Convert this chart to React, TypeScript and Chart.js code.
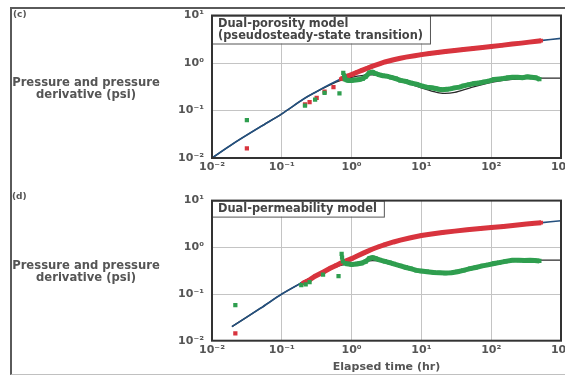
import React, { useEffect, useRef } from 'react';
import { Chart, registerables } from 'chart.js';

Chart.register(...registerables);

// ---------- ticks ----------
const X_TICK_VALUES = [0.01, 0.1, 1, 10, 100, 1000];
const X_TICK_LABELS = ['10⁻²', '10⁻¹', '10⁰', '10¹', '10²', '10³'];
const Y_TICK_VALUES = [0.01, 0.1, 1, 10];
const Y_TICK_LABELS = ['10⁻²', '10⁻¹', '10⁰', '10¹'];

// ---------- panel (c): dual-porosity ----------
const C_MODEL_P_T = [0.01, 0.02, 0.05, 0.1, 0.2, 0.3, 0.5, 0.7, 1, 1.5, 2, 3, 5, 7, 10, 20, 50, 100, 200, 500, 1000];
const C_MODEL_P = [0.01, 0.02, 0.046, 0.085, 0.17, 0.24, 0.36, 0.46, 0.57, 0.72, 0.85, 1.04, 1.24, 1.36, 1.49, 1.72, 2.0, 2.22, 2.5, 2.95, 3.3];
const C_MODEL_D_T = [0.01, 0.02, 0.05, 0.1, 0.2, 0.3, 0.5, 0.7, 1, 1.5, 2, 3, 5, 7, 10, 15, 20, 30, 50, 100, 200, 500, 1000];
const C_MODEL_D = [0.01, 0.02, 0.046, 0.085, 0.17, 0.24, 0.35, 0.43, 0.5, 0.55, 0.56, 0.52, 0.43, 0.36, 0.3, 0.25, 0.23, 0.24, 0.3, 0.39, 0.45, 0.48, 0.48];
const C_RED_T = [0.7, 0.8, 0.9, 1, 1.2, 1.4, 1.7, 2, 2.5, 3, 4, 5, 6, 8, 10, 13, 17, 22, 30, 40, 55, 75, 100, 140, 200, 270, 350, 450, 520];
const C_RED = [0.46, 0.5, 0.54, 0.57, 0.64, 0.7, 0.78, 0.86, 0.96, 1.05, 1.17, 1.26, 1.33, 1.42, 1.5, 1.58, 1.66, 1.74, 1.84, 1.93, 2.03, 2.12, 2.22, 2.35, 2.5, 2.62, 2.75, 2.88, 2.95];
const C_RED_PTS_T = [0.0316, 0.215, 0.25, 0.316, 0.41, 0.55];
const C_RED_PTS = [0.0159, 0.134, 0.15, 0.185, 0.25, 0.31];
const C_GREEN_T = [0.8, 0.9, 1, 1.15, 1.3, 1.45, 1.6, 1.8, 2, 2.2, 2.5, 2.8, 3.2, 3.7, 4.3, 5, 6, 7, 8.5, 10, 12, 14, 16, 18, 20, 23, 26, 30, 35, 40, 48, 57, 67, 80, 95, 110, 130, 150, 175, 200, 240, 280, 330, 380, 430, 490];
const C_GREEN = [0.45, 0.43, 0.43, 0.44, 0.45, 0.47, 0.52, 0.62, 0.64, 0.6, 0.56, 0.54, 0.53, 0.5, 0.47, 0.43, 0.41, 0.38, 0.36, 0.33, 0.31, 0.3, 0.29, 0.28, 0.275, 0.28, 0.285, 0.3, 0.31, 0.33, 0.35, 0.37, 0.38, 0.4, 0.42, 0.45, 0.46, 0.47, 0.49, 0.5, 0.5, 0.49, 0.51, 0.5, 0.49, 0.46];
const C_GREEN_PTS_T = [0.0316, 0.215, 0.3, 0.41, 0.67, 0.76, 0.78, 0.8];
const C_GREEN_PTS = [0.063, 0.127, 0.17, 0.235, 0.23, 0.62, 0.55, 0.5];

// ---------- panel (d): dual-permeability ----------
const D_MODEL_P_T = [0.0193, 0.05, 0.1, 0.2, 0.3, 0.5, 0.7, 1, 1.5, 2, 3, 5, 7, 10, 20, 50, 100, 200, 500, 1000];
const D_MODEL_P = [0.02, 0.05, 0.1, 0.18, 0.25, 0.37, 0.46, 0.57, 0.76, 0.93, 1.15, 1.42, 1.6, 1.79, 2.07, 2.4, 2.63, 2.9, 3.35, 3.7];
const D_MODEL_D_T = [0.0193, 0.05, 0.1, 0.2, 0.3, 0.5, 0.7, 1, 1.5, 2, 3, 5, 10, 20, 40, 100, 200, 500, 1000];
const D_MODEL_D = [0.02, 0.05, 0.1, 0.18, 0.25, 0.35, 0.41, 0.46, 0.5, 0.52, 0.49, 0.41, 0.31, 0.28, 0.32, 0.44, 0.5, 0.53, 0.53];
const D_RED_T = [0.2, 0.25, 0.3, 0.4, 0.5, 0.6, 0.7, 0.8, 1, 1.2, 1.5, 2, 2.5, 3, 4, 5, 7, 10, 14, 20, 30, 45, 70, 100, 150, 220, 320, 420, 520];
const D_RED = [0.17, 0.2, 0.24, 0.3, 0.36, 0.41, 0.46, 0.5, 0.57, 0.65, 0.76, 0.92, 1.04, 1.14, 1.3, 1.42, 1.6, 1.79, 1.93, 2.07, 2.22, 2.38, 2.52, 2.64, 2.8, 2.98, 3.15, 3.28, 3.37];
const D_RED_PTS_T = [0.0216];
const D_RED_PTS = [0.0144];
const D_GREEN_T = [0.8, 0.9, 1, 1.2, 1.4, 1.6, 1.8, 2, 2.2, 2.5, 3, 3.5, 4, 5, 6, 7, 8.5, 10, 12, 15, 18, 22, 27, 33, 40, 50, 60, 75, 90, 110, 130, 160, 200, 250, 300, 360, 420, 490];
const D_GREEN = [0.45, 0.44, 0.43, 0.44, 0.46, 0.5, 0.58, 0.6, 0.58, 0.54, 0.5, 0.47, 0.44, 0.4, 0.37, 0.35, 0.32, 0.31, 0.3, 0.29, 0.285, 0.28, 0.285, 0.3, 0.32, 0.35, 0.37, 0.4, 0.42, 0.45, 0.47, 0.5, 0.53, 0.53, 0.52, 0.53, 0.52, 0.51];
const D_GREEN_PTS_T = [0.0216, 0.19, 0.22, 0.25, 0.39, 0.65, 0.72, 0.73, 0.75];
const D_GREEN_PTS = [0.058, 0.155, 0.16, 0.18, 0.26, 0.24, 0.72, 0.6, 0.5];

// ---------- text ----------
const C_BOX_LINES = ['Dual-porosity model', '(pseudosteady-state transition)'];
const D_BOX_LINES = ['Dual-permeability model'];
const Y_LABEL_LINES = ['Pressure and pressure', 'derivative (psi)'];
const X_TITLE = 'Elapsed time (hr)';

const RED = '#d8343e';
const GREEN = '#2f9e4f';
const BLUE = '#24507e';
const BLACK = '#2a2a2a';
const TEXT = '#555555';
const FONT = 'DejaVu Sans';

const pts = (t: number[], v: number[]) => t.map((x, i) => ({ x, y: v[i] }));

const framePlugin = {
  id: 'frameBox',
  afterDraw(chart: any, _a: any, opts: any) {
    const { ctx, chartArea: a } = chart;
    ctx.save();
    const lines: string[] = opts.lines || [];
    ctx.font = `bold 11.4px "${FONT}"`;
    const lh = 12;
    const padX = 6;
    const padY = 2;
    const w = Math.max(...lines.map((l) => ctx.measureText(l).width)) + padX * 2 + 1;
    const h = lines.length * lh + padY * 2;
    ctx.fillStyle = '#ffffff';
    ctx.fillRect(a.left, a.top, w, h);
    ctx.strokeStyle = '#555';
    ctx.lineWidth = 1;
    ctx.strokeRect(a.left + 0.5, a.top + 0.5, w, h);
    ctx.fillStyle = '#444';
    ctx.textBaseline = 'middle';
    ctx.textAlign = 'left';
    lines.forEach((l, i) => ctx.fillText(l, a.left + padX, a.top + padY + lh * (i + 0.5) + 0.5));
    ctx.strokeStyle = '#333';
    ctx.lineWidth = 2;
    ctx.strokeRect(a.left, a.top, a.right - a.left, a.bottom - a.top);
    ctx.restore();
  },
};

function makeConfig(p: any) {
  const tickFont = { family: FONT, weight: 'bold' as const, size: 11 };
  return {
    type: 'scatter' as const,
    data: {
      datasets: [
        { data: pts(p.greenPtsT, p.greenPts), showLine: false, pointStyle: 'rect', pointRadius: 3, backgroundColor: GREEN, borderColor: GREEN, borderWidth: 0, order: 1 },
        { data: pts(p.redPtsT, p.redPts), showLine: false, pointStyle: 'rect', pointRadius: 3, backgroundColor: RED, borderColor: RED, borderWidth: 0, order: 2 },
        { data: pts(p.greenT, p.green), showLine: true, borderColor: GREEN, borderWidth: 5, pointStyle: 'rect', pointRadius: 3, backgroundColor: GREEN, pointBorderWidth: 0, tension: 0, order: 3 },
        { data: pts(p.redT, p.red), showLine: true, borderColor: RED, borderWidth: 5, pointStyle: 'rect', pointRadius: 2.6, backgroundColor: RED, pointBorderWidth: 0, tension: 0, order: 4 },
        { data: pts(p.modelPT, p.modelP), showLine: true, borderColor: BLUE, borderWidth: 1.7, pointRadius: 0, tension: 0.3, order: 5 },
        { data: pts(p.modelDT, p.modelD), showLine: true, borderColor: BLACK, borderWidth: 1.3, pointRadius: 0, tension: 0.3, order: 6 },
      ],
    },
    options: {
      responsive: false,
      animation: false as const,
      events: [],
      layout: { padding: { top: p.padTop, right: 3.5, left: 0, bottom: 0 } },
      plugins: {
        legend: { display: false },
        tooltip: { enabled: false },
        frameBox: { lines: p.boxLines },
      },
      scales: {
        x: {
          type: 'logarithmic' as const,
          min: 0.01,
          max: 1000,
          border: { display: false },
          grid: { color: '#c4c4c4', lineWidth: 1, drawTicks: false },
          ticks: {
            font: tickFont,
            color: TEXT,
            padding: 3,
            maxRotation: 0,
            autoSkip: false,
            callback: (v: any) => X_TICK_LABELS[X_TICK_VALUES.indexOf(Number(v))] ?? null,
          },
          title: p.xTitle
            ? { display: true, text: p.xTitle, font: { family: FONT, weight: 'bold' as const, size: 11 }, color: TEXT, padding: { top: 0, bottom: 2 } }
            : { display: false },
          afterBuildTicks: (s: any) => {
            s.ticks = X_TICK_VALUES.map((value) => ({ value }));
          },
          afterFit: (s: any) => {
            s.height = p.xAxisH;
            s.paddingLeft = 0;
            s.paddingRight = 0;
          },
        },
        y: {
          type: 'logarithmic' as const,
          min: 0.01,
          max: 10,
          border: { display: false },
          grid: { color: '#c4c4c4', lineWidth: 1, drawTicks: false },
          ticks: {
            font: tickFont,
            color: TEXT,
            padding: 8,
            autoSkip: false,
            callback: (v: any) => Y_TICK_LABELS[Y_TICK_VALUES.indexOf(Number(v))] ?? null,
          },
          afterBuildTicks: (s: any) => {
            s.ticks = Y_TICK_VALUES.map((value) => ({ value }));
          },
          afterFit: (s: any) => {
            s.width = 212;
            s.paddingTop = 0;
            s.paddingBottom = 0;
          },
        },
      },
    },
    plugins: [framePlugin],
  };
}

const PANEL_C = {
  modelPT: C_MODEL_P_T, modelP: C_MODEL_P, modelDT: C_MODEL_D_T, modelD: C_MODEL_D,
  redT: C_RED_T, red: C_RED, redPtsT: C_RED_PTS_T, redPts: C_RED_PTS,
  greenT: C_GREEN_T, green: C_GREEN, greenPtsT: C_GREEN_PTS_T, greenPts: C_GREEN_PTS,
  boxLines: C_BOX_LINES, padTop: 15.5, xAxisH: 22, xTitle: null,
};
const PANEL_D = {
  modelPT: D_MODEL_P_T, modelP: D_MODEL_P, modelDT: D_MODEL_D_T, modelD: D_MODEL_D,
  redT: D_RED_T, red: D_RED, redPtsT: D_RED_PTS_T, redPts: D_RED_PTS,
  greenT: D_GREEN_T, green: D_GREEN, greenPtsT: D_GREEN_PTS_T, greenPts: D_GREEN_PTS,
  boxLines: D_BOX_LINES, padTop: 15.6, xAxisH: 35.3, xTitle: X_TITLE,
};

function Panel({ panel, top, height }: { panel: any; top: number; height: number }) {
  const ref = useRef<HTMLCanvasElement>(null);
  useEffect(() => {
    if (!ref.current) return;
    const chart = new Chart(ref.current, makeConfig(panel) as any);
    return () => chart.destroy();
  }, [panel]);
  return (
    <canvas
      ref={ref}
      width={565}
      height={height}
      style={{ position: 'absolute', left: 0, top, width: 565, height }}
    />
  );
}

const textStyle: React.CSSProperties = {
  position: 'absolute',
  fontFamily: FONT,
  fontWeight: 'bold',
  color: TEXT,
  whiteSpace: 'nowrap',
};

export default function App() {
  return (
    <div style={{ position: 'absolute', left: 0, top: 0, width: 565, height: 376, background: '#fff', overflow: 'hidden' }}>
      <div style={{ position: 'absolute', left: 10, top: 7, width: 600, height: 365, borderTop: '2px solid #5a5a5a', borderLeft: '2px solid #5a5a5a', borderBottom: '1px solid #c0c0c0' }} />
      <Panel panel={PANEL_C} top={0} height={180} />
      <Panel panel={PANEL_D} top={185} height={191} />
      <div style={{ ...textStyle, left: 13, top: 9, fontSize: 9, lineHeight: '10px' }}>(c)</div>
      <div style={{ ...textStyle, left: 12, top: 191, fontSize: 9, lineHeight: '10px' }}>(d)</div>
      <div style={{ ...textStyle, left: 0, width: 172, top: 75.5, fontSize: 11.6, lineHeight: '12.5px', textAlign: 'center' }}>
        {Y_LABEL_LINES[0]}<br />{Y_LABEL_LINES[1]}
      </div>
      <div style={{ ...textStyle, left: 0, width: 172, top: 258.5, fontSize: 11.6, lineHeight: '12.5px', textAlign: 'center' }}>
        {Y_LABEL_LINES[0]}<br />{Y_LABEL_LINES[1]}
      </div>
    </div>
  );
}
